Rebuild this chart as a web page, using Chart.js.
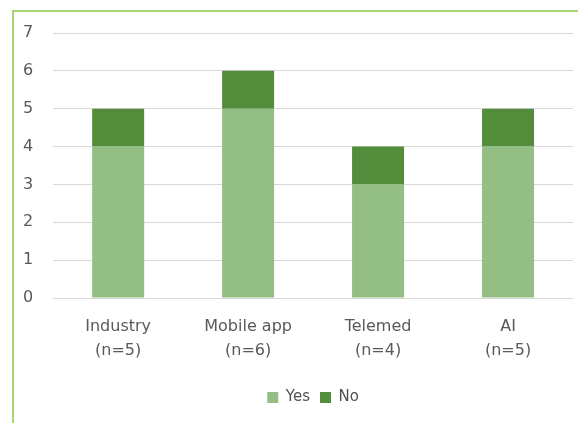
<!DOCTYPE html>
<html>
<head>
<meta charset="utf-8">
<script src="https://cdn.jsdelivr.net/npm/chart.js@4/dist/chart.umd.min.js"></script>
<style>
  html, body { margin: 0; padding: 0; background: #fff; }
  #wrap { position: absolute; left: 0; top: 0; width: 578px; height: 423px; }
</style>
</head>
<body>
<div id="wrap"><canvas id="graph" width="578" height="423"></canvas></div>
<script>
// categories and values
const categories = [['Industry', '(n=5)'], ['Mobile app', '(n=6)'], ['Telemed', '(n=4)'], ['AI', '(n=5)']];
const yesValues = [4, 5, 3, 4];
const noValues = [1, 1, 1, 1];

// frame around the chart (left and top edges visible)
const framePlugin = {
  id: 'frame',
  beforeDraw(chart) {
    const ctx = chart.ctx;
    ctx.save();
    ctx.fillStyle = '#ffffff';
    ctx.fillRect(0, 0, chart.width, chart.height);
    ctx.strokeStyle = '#a9d470';
    ctx.lineWidth = 2;
    ctx.beginPath();
    ctx.moveTo(13, chart.height);
    ctx.lineTo(13, 11);
    ctx.lineTo(chart.width, 11);
    ctx.stroke();
    ctx.restore();
  }
};

const cfgBar = {
  type: 'bar',
  data: {
    labels: categories,
    datasets: [
      { label: 'Yes', data: yesValues, backgroundColor: '#93be84' },
      { label: 'No', data: noValues, backgroundColor: '#538d3b' }
    ]
  },
  options: {
    responsive: false,
    animation: false,
    layout: { padding: { left: 3, right: 5, top: 33, bottom: 8 } },
    datasets: { bar: { categoryPercentage: 1, barPercentage: 0.4 } },
    scales: {
      x: {
        stacked: true,
        grid: { display: false, drawTicks: false },
        border: { display: false },
        ticks: { color: '#595959', padding: 17, font: { family: 'DejaVu Sans', size: 16, lineHeight: '24px' } }
      },
      y: {
        stacked: true,
        min: 0,
        max: 7,
        grid: { color: '#d9d9d9', drawTicks: false },
        border: { display: false },
        ticks: { stepSize: 1, color: '#595959', padding: 20, font: { family: 'DejaVu Sans', size: 16 } }
      }
    },
    plugins: {
      tooltip: { enabled: false },
      legend: {
        position: 'bottom',
        fullSize: false,
        labels: { boxWidth: 11, boxHeight: 11, padding: 10, color: '#505050', font: { family: 'DejaVu Sans', size: 15 } }
      }
    }
  },
  plugins: [framePlugin]
};

new Chart(document.getElementById('graph'), cfgBar);
</script>
</body>
</html>
